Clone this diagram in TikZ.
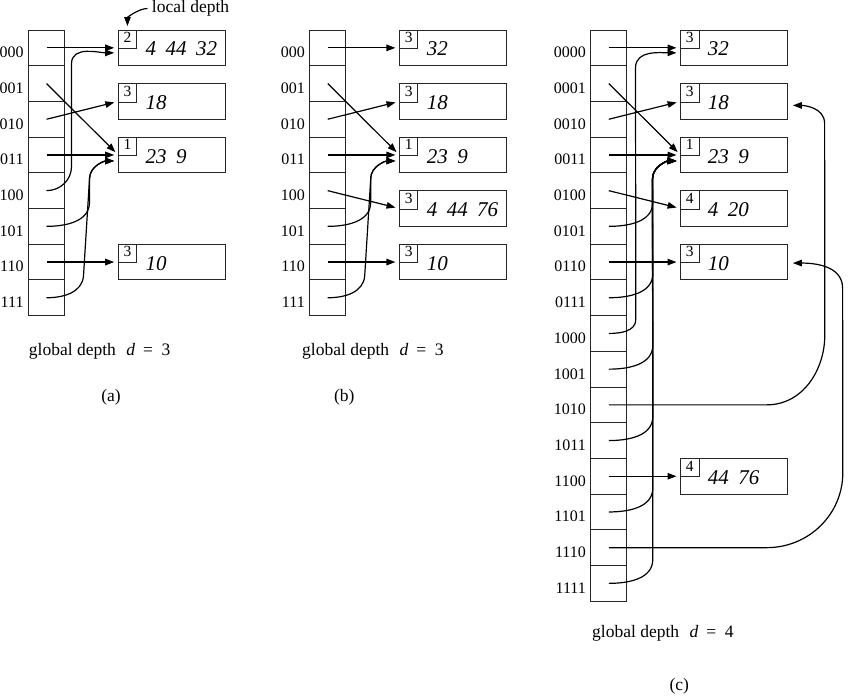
\documentclass[tikz,border=0pt]{standalone}
\usepackage{fontspec}
\setmainfont{Liberation Serif}
\usetikzlibrary{positioning,arrows.meta}

\newcommand{\ksep}{\hspace{0.45em}}
\newcommand{\gdepth}[1]{global depth\hspace{0.6em}\textit{d}\hspace{0.45em}=\hspace{0.5em}#1}

\begin{document}
\begin{tikzpicture}[x=1pt, y=1pt, line width=0.9pt,
    dir cell/.style={draw=black!85, minimum width=36pt, minimum height=35.7pt, inner sep=0pt, outer sep=0pt},
    bucket/.style={draw=black!85, minimum width=107.3pt, minimum height=35.7pt, inner sep=0pt, outer sep=0pt},
    depth box/.style={draw=black!85, anchor=north west, minimum size=18.5pt, inner sep=0pt, outer sep=0pt,
                      text depth=3.5pt, font=\fontsize{15.5}{18}\selectfont},
    key text/.style={inner sep=0pt, yshift=-1.2pt, font=\fontsize{21}{24}\selectfont\itshape},
    bin label/.style={anchor=east, inner sep=0pt, font=\fontsize{16}{18}\selectfont},
    caption text/.style={anchor=base west, inner sep=0pt, font=\fontsize{17.5}{21}\selectfont},
    pointer/.style={-{Triangle[length=9pt,width=6.5pt]}, line width=1.2pt, shorten >=4pt}]

  \useasboundingbox (0,0) rectangle (850,-696);

  % (a) global depth 3
  \foreach \i/\b in {0/000,1/001,2/010,3/011,4/100,5/101,6/110,7/111} {
    \node[dir cell] (a\i) at (46.5,{-30-35.7*(\i+0.5)}) {};
    \node[bin label] (la\i) at ([xshift=-4.5pt,yshift=-4.7pt]a\i.west) {\b};
  }
  \node[bucket, right=53.7pt of a0] (pa1) {};
  \node[bucket, right=53.7pt of a1.south east] (pa2) {};
  \node[bucket, right=53.7pt of a3] (pa3) {};
  \node[bucket, right=53.7pt of a6] (pa5) {};
  \node[depth box] (da1) at (pa1.north west) {2};
  \node[depth box] (da2) at (pa2.north west) {3};
  \node[depth box] (da3) at (pa3.north west) {1};
  \node[depth box] (da5) at (pa5.north west) {3};
  \node[key text, right=27pt of pa1.west] (ka1) {4\ksep 44\ksep 32};
  \node[key text, right=27pt of pa2.west] (ka2) {18};
  \node[key text, right=27pt of pa3.west] (ka3) {23\ksep 9};
  \node[key text, right=27pt of pa5.west] (ka5) {10};

  \node[caption text] (ld) at (151.5,-12.7) {local depth};
  \draw[pointer, shorten <=4pt] (ld.west) to[out=180,in=90] (da1.north);

  \draw[pointer] (a0.center) -- (pa1.west);
  \draw[pointer] (a1.center) -- (pa3.west);
  \draw[pointer] (a2.center) -- (pa2.west);
  \draw[pointer] (a3.center) -- (pa3.west);
  \draw[pointer] (a6.center) -- (pa5.west);
  \coordinate (ra) at ([xshift=-28.7pt,yshift=-24pt]pa3.west);
  \draw[pointer] (a4.center) to[out=0,in=-90] ++(25,24)
    -- ([xshift=-46.7pt,yshift=-16pt]pa1.west) to[out=90,in=180] ([yshift=-5pt]pa1.west);
  \draw[pointer] (a5.center) to[out=0,in=-90] ++(43,24) -- (ra)
    to[out=90,in=180] ([yshift=-6pt]pa3.west);
  \draw[pointer] (a7.center) to[out=0,in=-94] ++(37,22) -- (ra)
    to[out=90,in=180] ([yshift=-6pt]pa3.west);

  \node[caption text] (ga) at (28.5,-355) {\gdepth{3}};
  \node[caption text, anchor=base] (ca) at (111,-401) {(a)};

  % (b) bucket 000 split
  \foreach \i/\b in {0/000,1/001,2/010,3/011,4/100,5/101,6/110,7/111} {
    \node[dir cell] (b\i) at (327.7,{-30-35.7*(\i+0.5)}) {};
    \node[bin label] (lb\i) at ([xshift=-4.5pt,yshift=-4.7pt]b\i.west) {\b};
  }
  \node[bucket, right=53.7pt of b0] (pb1) {};
  \node[bucket, right=53.7pt of b1.south east] (pb2) {};
  \node[bucket, right=53.7pt of b3] (pb3) {};
  \node[bucket, right=53.7pt of b4.south east] (pb4) {};
  \node[bucket, right=53.7pt of b6] (pb5) {};
  \node[depth box] (db1) at (pb1.north west) {3};
  \node[depth box] (db2) at (pb2.north west) {3};
  \node[depth box] (db3) at (pb3.north west) {1};
  \node[depth box] (db4) at (pb4.north west) {3};
  \node[depth box] (db5) at (pb5.north west) {3};
  \node[key text, right=27pt of pb1.west] (kb1) {32};
  \node[key text, right=27pt of pb2.west] (kb2) {18};
  \node[key text, right=27pt of pb3.west] (kb3) {23\ksep 9};
  \node[key text, right=27pt of pb4.west] (kb4) {4\ksep 44\ksep 76};
  \node[key text, right=27pt of pb5.west] (kb5) {10};

  \draw[pointer] (b0.center) -- (pb1.west);
  \draw[pointer] (b1.center) -- (pb3.west);
  \draw[pointer] (b2.center) -- (pb2.west);
  \draw[pointer] (b3.center) -- (pb3.west);
  \draw[pointer] (b4.center) -- (pb4.west);
  \draw[pointer] (b6.center) -- (pb5.west);
  \coordinate (rb) at ([xshift=-28.7pt,yshift=-24pt]pb3.west);
  \draw[pointer] (b5.center) to[out=0,in=-90] ++(43,24) -- (rb)
    to[out=90,in=180] ([yshift=-6pt]pb3.west);
  \draw[pointer] (b7.center) to[out=0,in=-94] ++(37,22) -- (rb)
    to[out=90,in=180] ([yshift=-6pt]pb3.west);

  \node[caption text] (gb) at (301.7,-355) {\gdepth{3}};
  \node[caption text, anchor=base] (cb) at (344.2,-401) {(b)};

  % (c) directory doubled to global depth 4
  \foreach \i/\b in {0/0000,1/0001,2/0010,3/0011,4/0100,5/0101,6/0110,7/0111,
                     8/1000,9/1001,10/1010,11/1011,12/1100,13/1101,14/1110,15/1111} {
    \node[dir cell] (c\i) at (608.8,{-30-35.7*(\i+0.5)}) {};
    \node[bin label] (lc\i) at ([xshift=-4.5pt,yshift=-4.7pt]c\i.west) {\b};
  }
  \node[bucket, right=53.7pt of c0] (pc1) {};
  \node[bucket, right=53.7pt of c1.south east] (pc2) {};
  \node[bucket, right=53.7pt of c3] (pc3) {};
  \node[bucket, right=53.7pt of c4.south east] (pc4) {};
  \node[bucket, right=53.7pt of c6] (pc5) {};
  \node[bucket, right=53.7pt of c12] (pc6) {};
  \node[depth box] (dc1) at (pc1.north west) {3};
  \node[depth box] (dc2) at (pc2.north west) {3};
  \node[depth box] (dc3) at (pc3.north west) {1};
  \node[depth box] (dc4) at (pc4.north west) {4};
  \node[depth box] (dc5) at (pc5.north west) {3};
  \node[depth box] (dc6) at (pc6.north west) {4};
  \node[key text, right=27pt of pc1.west] (kc1) {32};
  \node[key text, right=27pt of pc2.west] (kc2) {18};
  \node[key text, right=27pt of pc3.west] (kc3) {23\ksep 9};
  \node[key text, right=27pt of pc4.west] (kc4) {4\ksep 20};
  \node[key text, right=27pt of pc5.west] (kc5) {10};
  \node[key text, right=27pt of pc6.west] (kc6) {44\ksep 76};

  \draw[pointer] (c0.center) -- (pc1.west);
  \draw[pointer] (c1.center) -- (pc3.west);
  \draw[pointer] (c2.center) -- (pc2.west);
  \draw[pointer] (c3.center) -- (pc3.west);
  \draw[pointer] (c4.center) -- (pc4.west);
  \draw[pointer] (c6.center) -- (pc5.west);
  \draw[pointer] (c12.center) -- (pc6.west);
  \coordinate (rc) at ([xshift=-28pt,yshift=-24pt]pc3.west);
  \foreach \k in {5,7,...,15}
    \draw[pointer] (c\k.center) to[out=0,in=-90] ++(44,24) -- (rc)
      to[out=90,in=180] ([yshift=-6pt]pc3.west);
  \draw[pointer] (c8.center) to[out=0,in=-90] ++(27,14)
    -- ([xshift=-45pt,yshift=-20pt]pc1.west) to[out=90,in=180] ([yshift=-5pt]pc1.west);
  \draw[pointer, shorten >=5pt] (c10.center) -- ++(158,0) to[out=0,in=-90] ++(58,70)
    -- ([xshift=36.8pt,yshift=-22pt]pc2.east) to[out=90,in=0] ([yshift=-4pt]pc2.east);
  \draw[pointer, shorten >=5pt] (c14.center) -- ++(158,0) to[out=0,in=-90] ++(76,75)
    -- ([xshift=54.8pt,yshift=-26pt]pc5.east) to[out=90,in=0] ([yshift=-1pt]pc5.east);

  \node[caption text] (gc) at (591.7,-637.5) {\gdepth{4}};
  \node[caption text, anchor=base] (cc) at (679.2,-690) {(c)};
\end{tikzpicture}
\end{document}
